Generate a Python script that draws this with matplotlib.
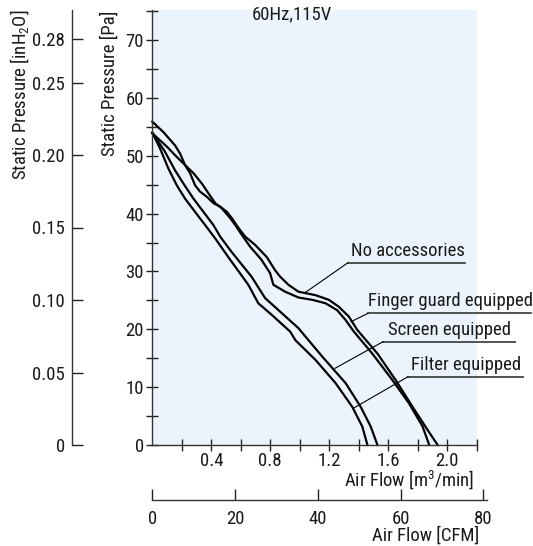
import matplotlib
matplotlib.use("Agg")
import matplotlib.pyplot as plt
from matplotlib.lines import Line2D
from matplotlib import font_manager

_available = {f.name for f in font_manager.fontManager.ttflist}
FONT = 'DejaVu Sans'
for cand in ['Liberation Sans Narrow', 'Roboto Condensed', 'Archivo Narrow', 'PT Sans Narrow',
             'Asap Condensed', 'Barlow Condensed']:
    if cand in _available:
        FONT = cand
        break
plt.rcParams['font.family'] = [FONT, 'DejaVu Sans']
plt.rcParams['mathtext.fontset'] = 'custom'
plt.rcParams['mathtext.rm'] = FONT
plt.rcParams['mathtext.default'] = 'regular'

# ---------------- data ----------------
noacc_x = [0.0, 0.075, 0.154, 0.188, 0.222, 0.256, 0.290, 0.324, 0.370, 0.415, 0.461, 0.506,
           0.540, 0.585, 0.631, 0.697, 0.776, 0.833, 0.867, 0.923, 0.991, 1.107, 1.197, 1.265,
           1.333, 1.39, 1.527, 1.651, 1.765, 1.867, 1.935]
noacc_y = [55.9, 54.1, 51.8, 50.4, 48.4, 47.0, 44.9, 43.8, 42.9, 41.8, 41.2, 40.3,
           39.2, 37.5, 36.0, 34.6, 32.5, 30.2, 29.1, 27.7, 26.5, 25.9, 25.1, 23.9,
           22.2, 19.9, 15.8, 11.2, 6.6, 2.6, 0.0]

finger_x = [0.0, 0.098, 0.166, 0.234, 0.279, 0.336, 0.381, 0.427, 0.472, 0.529, 0.563, 0.608,
            0.663, 0.741, 0.799, 0.821, 0.901, 0.991, 1.084, 1.175, 1.254, 1.311, 1.367,
            1.492, 1.629, 1.741, 1.833, 1.878]
finger_y = [53.9, 51.6, 49.8, 48.1, 47.0, 45.2, 43.5, 41.8, 40.9, 39.2, 38.0, 36.3,
            34.3, 32.0, 29.7, 27.7, 26.5, 25.5, 25.1, 24.5, 23.3, 21.6, 19.6,
            15.8, 11.2, 7.2, 3.2, 0.0]

screen_x = [0.0, 0.086, 0.154, 0.211, 0.279, 0.347, 0.415, 0.461, 0.537, 0.673, 0.765,
            0.878, 0.991, 1.152, 1.311, 1.413, 1.481, 1.527]
screen_y = [54.0, 50.7, 47.5, 45.2, 42.6, 40.3, 38.0, 36.0, 33.4, 29.1, 25.4,
            22.8, 20.2, 15.3, 10.7, 6.6, 3.2, 0.0]

filter_x = [0.0, 0.052, 0.109, 0.166, 0.222, 0.290, 0.359, 0.427, 0.515, 0.651, 0.719,
            0.810, 0.935, 0.971, 1.107, 1.243, 1.356, 1.424, 1.459]
filter_y = [54.0, 51.3, 47.8, 44.9, 42.6, 40.3, 38.0, 35.7, 32.5, 27.7, 24.5,
            22.5, 19.6, 18.1, 14.7, 10.7, 6.6, 3.2, 0.0]

series_labels = ["No accessories", "Finger guard equipped", "Screen equipped", "Filter equipped"]

pa_major = [0, 10, 20, 30, 40, 50, 60, 70]
pa_minor = [5, 15, 25, 35, 45, 55, 65, 75]
inh2o_ticks = [0, 0.05, 0.10, 0.15, 0.20, 0.25, 0.28]
inh2o_labels = ["0", "0.05", "0.10", "0.15", "0.20", "0.25", "0.28"]
flow_major = [0.4, 0.8, 1.2, 1.6, 2.0]
flow_minor = [0.2, 0.6, 1.0, 1.4, 1.8, 2.2]
cfm_ticks = [0, 20, 40, 60, 80]

# ---------------- figure ----------------
W, H = 533, 546
fig = plt.figure(figsize=(W / 100, H / 100), dpi=100)

def fx(px):
    return px / W

def fy(py):
    return 1 - py / H

FS = 13.5
DARK = '#1a1a1a'
AX_LEFT, AX_RIGHT, AX_TOP, AX_BOT = 152.3, 476.7, 10, 445

ax = fig.add_axes([fx(AX_LEFT), fy(AX_BOT), fx(AX_RIGHT) - fx(AX_LEFT), fy(AX_TOP) - fy(AX_BOT)])
ax.set_facecolor('#ebf4fc')
ax.set_xlim(0, 2.2)
ax.set_ylim(0, 75.2)
for s in ['top', 'right']:
    ax.spines[s].set_visible(False)
for s in ['left', 'bottom']:
    ax.spines[s].set_color('#333333')
    ax.spines[s].set_linewidth(1.0)

ax.set_yticks(pa_major)
ax.set_yticks(pa_minor, minor=True)
ax.set_xticks(flow_major)
ax.set_xticklabels([f"{v:.1f}" for v in flow_major])
ax.set_xticks(flow_minor, minor=True)
ax.tick_params(axis='both', which='both', direction='inout', length=8, width=1.0,
               color='#222222', labelsize=FS, labelcolor=DARK)
ax.tick_params(axis='y', which='major', pad=2)
ax.tick_params(axis='x', which='major', pad=1)

for xs, ys in [(noacc_x, noacc_y), (finger_x, finger_y), (screen_x, screen_y), (filter_x, filter_y)]:
    ax.plot(xs, ys, color='black', lw=1.6, solid_joinstyle='round', clip_on=False)

ax.text(0.675, 74.4, "60Hz,115V", fontsize=FS, color=DARK, ha='left', va='center')

# ---------------- left inH2O axis ----------------
ax2 = fig.add_axes([fx(72), fy(AX_BOT), 0.0001, fy(AX_TOP) - fy(AX_BOT)])
ax2.patch.set_visible(False)
for s in ['top', 'right', 'bottom']:
    ax2.spines[s].set_visible(False)
ax2.spines['left'].set_color('#333333')
ax2.spines['left'].set_linewidth(1.0)
ax2.set_ylim(0, 0.300)
ax2.set_xticks([])
ax2.set_yticks(inh2o_ticks)
ax2.set_yticklabels(inh2o_labels)
ax2.tick_params(axis='y', direction='in', length=8, width=1.0, color='#222222',
                labelsize=FS, labelcolor=DARK, pad=5)

# ---------------- CFM axis ----------------
ax3 = fig.add_axes([fx(AX_LEFT), fy(500), fx(486.7) - fx(AX_LEFT), 0.0001])
ax3.patch.set_visible(False)
for s in ['top', 'right', 'left']:
    ax3.spines[s].set_visible(False)
ax3.spines['bottom'].set_color('#333333')
ax3.spines['bottom'].set_linewidth(1.0)
ax3.set_xlim(0, 80.8)
ax3.set_yticks([])
ax3.set_xticks(cfm_ticks)
ax3.set_xticklabels([str(v) for v in cfm_ticks])
ax3.tick_params(axis='x', direction='in', length=8, width=1.0, color='#222222',
                labelsize=FS, labelcolor=DARK, pad=7)

# ---------------- axis titles ----------------
fig.text(fx(20), fy(10), "Static Pressure [inH$_2$O]", rotation=90, ha='center', va='top',
         fontsize=FS, color=DARK)
fig.text(fx(110), fy(11), "Static Pressure [Pa]", rotation=90, ha='center', va='top',
         fontsize=FS, color=DARK)
fig.text(fx(474), fy(480), "Air Flow [m$^3$/min]", ha='right', va='center', fontsize=FS, color=DARK)
fig.text(fx(479), fy(545), "Air Flow [CFM]", ha='right', va='bottom', fontsize=FS, color=DARK)

# ---------------- callouts ----------------
callouts = [
    # label, underline start x, underline end x, underline y, leader end (px)
    (series_labels[0], 348, 465, 262.7, (305, 292.7)),
    (series_labels[1], 368, 531, 313.3, (351, 321.7)),
    (series_labels[2], 383, 515, 341.7, (335, 368.3)),
    (series_labels[3], 408, 523, 376.7, (353.3, 408.3)),
]
for label, x0, x1, yline, (lx, ly) in callouts:
    fig.add_artist(Line2D([fx(x0), fx(x1)], [fy(yline), fy(yline)], transform=fig.transFigure,
                          color='#444444', lw=1.3))
    fig.add_artist(Line2D([fx(x0), fx(lx)], [fy(yline), fy(ly)], transform=fig.transFigure,
                          color='black', lw=0.8))
    fig.text(fx((x0 + x1) / 2 + 1), fy(yline - 3), label, ha='center', va='bottom',
             fontsize=FS, color=DARK)

fig.savefig("out.png", dpi=100)
